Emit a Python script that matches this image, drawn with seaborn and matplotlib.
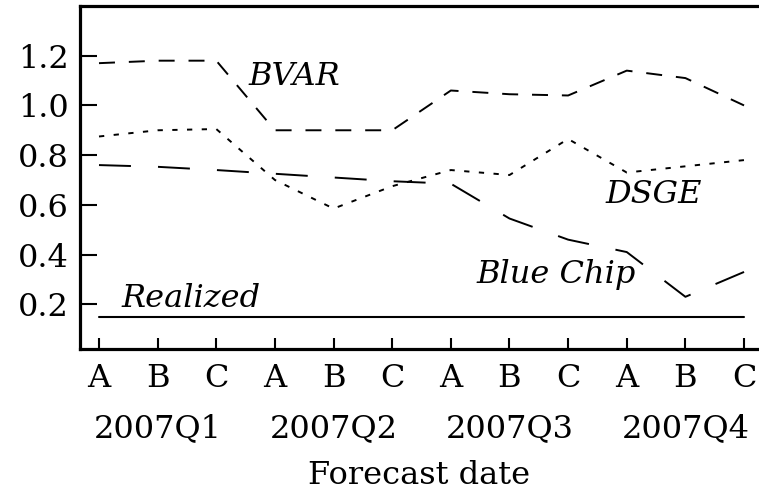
import matplotlib
matplotlib.use("Agg")
import matplotlib.pyplot as plt
import pandas as pd
import seaborn as sns

# Forecast vintages: three per quarter
positions = ["A", "B", "C", "A", "B", "C", "A", "B", "C", "A", "B", "C"]
quarters = ["2007Q1", "2007Q2", "2007Q3", "2007Q4"]

bvar = [1.17, 1.18, 1.18, 0.90, 0.90, 0.90, 1.06, 1.045, 1.04, 1.14, 1.11, 1.00]
dsge = [0.875, 0.90, 0.905, 0.70, 0.585, 0.675, 0.74, 0.72, 0.865, 0.73, 0.755, 0.78]
blue_chip = [0.76, 0.753, 0.74, 0.725, 0.71, 0.695, 0.685, 0.545, 0.46, 0.41, 0.23, 0.33]
realized = [0.15, 0.15, 0.15, 0.15, 0.15, 0.15, 0.15, 0.15, 0.15, 0.15, 0.15, 0.15]

yticks = [0.2, 0.4, 0.6, 0.8, 1.0, 1.2]
ytick_labels = ["0.2", "0.4", "0.6", "0.8", "1.0", "1.2"]

sns.set_theme(style="ticks")
plt.rcParams["font.family"] = ["DejaVu Serif"]
plt.rcParams["lines.scale_dashes"] = False
plt.rcParams["text.color"] = "black"

FS = 23

df = pd.DataFrame({
    "step": list(range(len(positions))),
    "BVAR": bvar,
    "DSGE": dsge,
    "Blue Chip": blue_chip,
    "Realized": realized,
})

fig = plt.figure(figsize=(7.59, 4.92), dpi=100)
ax = fig.add_axes([80 / 759, 143 / 492, 679 / 759, 343 / 492])

line_styles = {
    "BVAR": ((0, (11.5, 10.0)), 1.4),
    "DSGE": ((0, (3.8, 6.8)), 1.4),
    "Blue Chip": ((0, (23.0, 19.5)), 1.4),
    "Realized": ("-", 1.5),
}
for name, (ls, lw) in line_styles.items():
    sns.lineplot(data=df, x="step", y=name, ax=ax, color="black",
                 linewidth=lw, linestyle=ls, errorbar=None)

# Series labels placed next to their lines
label_kw = dict(style="italic", fontsize=FS, ha="left", va="baseline", color="black")
ax.text(2.55, 1.082, "BVAR", **label_kw)
ax.text(8.63, 0.609, "DSGE", **label_kw)
ax.text(6.44, 0.284, "Blue Chip", **label_kw)
ax.text(0.39, 0.188, "Realized", **label_kw)

ax.set_xlim(-0.324, 11.255)
ax.set_ylim(0.02, 1.40)

ax.set_xticks(df["step"])
ax.set_xticklabels(positions)
ax.set_yticks(yticks)
ax.set_yticklabels(ytick_labels)

ax.tick_params(axis="y", direction="in", length=12.5, width=1.5, pad=8.0,
               labelsize=FS, colors="black", left=True)
ax.tick_params(axis="x", direction="in", length=7.7, width=1.5, pad=10,
               labelsize=FS, colors="black", bottom=True)

# Quarter labels under the B of each group
xt = ax.get_xaxis_transform()
for i, q in enumerate(quarters):
    ax.text(3 * i + 1, -0.2565, q, transform=xt, ha="center", va="baseline",
            fontsize=FS, color="black")

ax.set_ylabel("")
ax.set_xlabel("Forecast date", fontsize=FS, va="baseline", color="black")
ax.xaxis.set_label_coords(0.5, -0.3935)

for side in ["left", "top", "bottom"]:
    ax.spines[side].set_linewidth(2.3)
    ax.spines[side].set_color("black")
ax.spines["right"].set_visible(False)

fig.savefig("out.png", dpi=100, facecolor="white")
